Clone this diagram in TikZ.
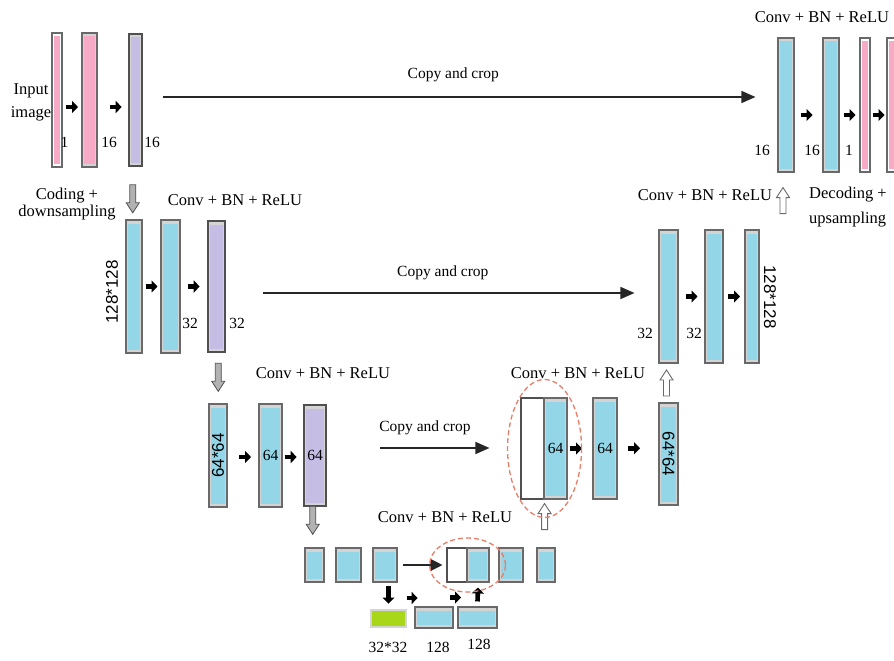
\documentclass[tikz,border=0pt]{standalone}
\usepackage{fontspec}
\setmainfont{Liberation Serif}
\setsansfont{Liberation Sans}
\usetikzlibrary{arrows.meta,calc}

\definecolor{mapblue}{RGB}{146,214,232}
\definecolor{mappink}{RGB}{247,170,197}
\definecolor{maplav}{RGB}{198,189,229}
\definecolor{mappad}{RGB}{212,212,212}
\definecolor{mapedge}{RGB}{105,105,105}
\definecolor{mapdark}{RGB}{80,80,80}
\definecolor{maplime}{RGB}{168,214,24}
\definecolor{cropred}{RGB}{232,125,105}

\begin{document}
\begin{tikzpicture}[
  x=1pt, y=-1pt,
  lbl/.style={inner sep=0pt, font=\fontsize{15.5}{18}\selectfont},
  big/.style={inner sep=0pt, font=\fontsize{16.5}{19}\selectfont},
  dim/.style={inner sep=0pt, font=\sffamily\fontsize{17}{19}\selectfont},
  sz/.style 2 args={minimum width=#1pt, minimum height=#2pt},
  core/.style={path picture={\fill[#1] ([shift={(2.2pt,-3.5pt)}]path picture bounding box.north west) rectangle ([shift={(-2.2pt,3.5pt)}]path picture bounding box.south east);}},
  fmap/.style={draw=mapedge, line width=1.1pt, fill=mappad, inner sep=0pt, lbl},
  bluemap/.style={fmap, core=mapblue},
  pinkmap/.style={fmap, core=mappink},
  thinpink/.style={fmap, fill=white, core=mappink},
  lavmap/.style={fmap, draw=mapdark, line width=2.4pt, core=maplav},
  openmap/.style={draw=mapdark, line width=1.1pt, fill=white, inner sep=0pt},
  limemap/.style={draw=mappad, line width=1.6pt, fill=maplime, inner sep=0pt},
  fwd/.style={line width=4.6pt, -{Triangle[length=6pt, width=12pt]}},
  copyline/.style={draw=gray!30!black, line width=1.4pt, -{Triangle[length=14pt, width=12pt]}},
  cropring/.style={draw=cropred, line width=1.3pt, dash pattern=on 5pt off 3pt},
  pics/dnarrow/.style={code={
    \draw[draw=mapdark, fill=gray!60, line width=0.8pt] (-3,-14) -- (3,-14) -- (3,4) -- (6.5,4) -- (0,14) -- (-6.5,4) -- (-3,4) -- cycle;}},
  pics/uparrow/.style={code={
    \draw[draw=mapedge, fill=white, line width=0.9pt] (-3,13) -- (3,13) -- (3,-3) -- (6.5,-3) -- (0,-13) -- (-6.5,-3) -- (-3,-3) -- cycle;}}
]
\useasboundingbox (0,0) rectangle (894,661);

% level 1, encoder side
\node[thinpink, sz={10}{134}] (t1) at (57,100) {};
\node[pinkmap, sz={15}{134}] (t2) at (89.5,100) {};
\node[lavmap, sz={13}{132}] (t3) at (135.5,100) {};

% level 1, decoder side
\node[bluemap, sz={16}{134}] (r1) at (786,105) {};
\node[bluemap, sz={16}{134}] (r2) at (831,105) {};
\node[thinpink, sz={10}{134}] (r3) at (865,105) {};
\node[thinpink, sz={10}{134}] (r4) at (892,105) {};

% level 2
\node[bluemap, sz={16}{133}] (m1) at (134,286.5) {};
\node[bluemap, sz={19}{133}] (m2) at (170.5,286.5) {};
\node[lavmap, sz={17}{131}] (m3) at (216.5,286.5) {};

\node[bluemap, sz={19}{133}] (n1) at (668.5,296.5) {};
\node[bluemap, sz={18}{133}] (n2) at (714,296.5) {};
\node[bluemap, sz={14}{133}] (n3) at (752,296.5) {};

% level 3
\node[bluemap, sz={18}{103}] (l1) at (218,455.5) {};
\node[bluemap, sz={23}{103}] (l2) at (270.5,455.5) {64};
\node[lavmap, sz={22}{101}] (l3) at (315,455.5) {64};

\node[openmap, sz={23}{101}] (k1) at (532.5,448.5) {};
\node[bluemap, sz={23}{101}] (k2) at (555.5,448.5) {64};
\node[bluemap, sz={24}{101}] (k3) at (605,448.5) {64};
\node[bluemap, sz={19}{102}] (k4) at (668.5,454) {};

% level 4 and bottleneck
\node[bluemap, sz={19}{34}] (b1) at (314.5,565) {};
\node[bluemap, sz={25}{34}] (b2) at (348.5,565) {};
\node[bluemap, sz={24}{34}] (b3) at (385,565) {};
\node[openmap, sz={20}{34}] (b4) at (457,565) {};
\node[bluemap, sz={22}{34}] (b5) at (478,565) {};
\node[bluemap, sz={24}{34}] (b6) at (511,565) {};
\node[bluemap, sz={18}{34}] (b7) at (546,565) {};

\node[limemap, sz={35}{17}] (g1) at (388.5,618.5) {};
\node[bluemap, sz={38}{21}] (c1) at (434,617.5) {};
\node[bluemap, sz={39}{21}] (c2) at (477.5,617.5) {};

% convolution steps
\draw[fwd] ($(t1.east)!.5!(t2.west)+(-6,7)$) -- ++(12,0);
\draw[fwd] ($(t2.east)!.5!(t3.west)+(-3,7)$) -- ++(12,0);
\draw[fwd] ($(r1.east)!.5!(r2.west)+(-8,10)$) -- ++(12,0);
\draw[fwd] ($(r2.east)!.5!(r3.west)+(-6,10)$) -- ++(12,0);
\draw[fwd] ($(r3.east)!.5!(r4.west)+(-6,10)$) -- ++(12,0);
\draw[fwd] ($(m1.east)!.5!(m2.west)+(-6,0)$) -- ++(12,0);
\draw[fwd] ($(m2.east)!.5!(m3.west)+(-6,0)$) -- ++(12,0);
\draw[fwd] ($(n1.east)!.5!(n2.west)+(-6,0)$) -- ++(12,0);
\draw[fwd] ($(n2.east)!.5!(n3.west)+(-6,0)$) -- ++(12,0);
\draw[fwd] ($(l1.east)!.5!(l2.west)+(-4,1.5)$) -- ++(12,0);
\draw[fwd] ($(l2.east)!.5!(l3.west)+(-8,1.5)$) -- ++(12,0);
\draw[fwd] ($(k2.east)!.5!(k3.west)+(-10,0)$) -- ++(12,0);
\draw[fwd] ($(k3.east)!.5!(k4.west)+(-10,-3)$) -- ++(12,0);
\draw[fwd] ($(g1.east)!.5!(c1.west)+(-4,-20)$) -- ++(11,0);
\draw[fwd] ($(c1.east)!.5!(c2.west)+(-5.5,-20)$) -- ++(11,0);
\draw[fwd] ($(b3.south -| g1.north)+(0,3)$) -- ++(0,18);
\draw[fwd] ($(c2.north)+(0,-5)$) -- ($(b5.south)+(0,5)$);

% skip connections
\draw[copyline] ($(t3.east)+(20,-3)$) -- ($(t3.east -| r1.west)+(-22,-3)$)
  node[lbl, midway, xshift=-6pt, yshift=22pt] {Copy and crop};
\draw[copyline] ($(m3.east)+(37,6.5)$) -- ($(m3.east -| n1.west)+(-24,6.5)$)
  node[lbl, midway, xshift=-6pt, yshift=20pt] {Copy and crop};
\draw[copyline] ($(l3.east)+(53,-7.5)$) -- ($(l3.east -| k1.west)+(-31,-7.5)$)
  node[lbl, pos=.41, yshift=20pt] {Copy and crop};
\draw[draw=gray!30!black, line width=1.2pt, -{Triangle[length=12pt, width=12pt]}] ($(b3.east)+(5,0)$) -- ($(b4.west)+(-4,0)$);

% pooling and upsampling
\pic at ($(t3.south)!.5!(m1.north)+(-2,5.5)$) {dnarrow};
\pic at ($(m3.south)!.5!(l1.north)+(1,-1)$) {dnarrow};
\pic at ($(l3.south)!.5!(b1.north)+(-2,-7)$) {dnarrow};
\pic at ($(r1.south)+(-3,28)$) {uparrow};
\pic at ($(k4.north)!.5!(n1.south)+(-2,0)$) {uparrow};
\pic at ($(k1.south east)+(0,17)$) {uparrow};

% concatenated blocks
\draw[cropring] (k1.east) ellipse [x radius=37pt, y radius=69pt];
\draw[cropring] (b4.east) ellipse [x radius=38pt, y radius=27pt];

% labels
\node[big, align=center, font=\fontsize{16.5}{23}\selectfont] (input) at (31,102) {Input\\image};
\node[lbl] (t1n) at (64.5,142) {1};
\node[lbl] (t2n) at (109,142) {16};
\node[lbl] (t3n) at (152,142) {16};
\node[lbl] (r1n) at (762,150) {16};
\node[lbl] (r2n) at (812,150) {16};
\node[lbl] (r3n) at (849,150) {1};
\node[big] (convtop) at (822,17) {Conv + BN + ReLU};
\node[big, align=center, font=\fontsize{16.5}{17.5}\selectfont] (coding) at (67,204) {Coding +\\downsampling};
\node[big, align=left, anchor=west, font=\fontsize{16.5}{25}\selectfont] (decoding) at (809,207) {Decoding +\\upsampling};
\node[big] (convmid) at (235,200) {Conv + BN + ReLU};
\node[big] (convmidr) at (705,195) {Conv + BN + ReLU};
\node[dim, rotate=90] (m1n) at (112,292) {128*128};
\node[lbl] (m2n) at (190,323) {32};
\node[lbl] (m3n) at (237,323) {32};
\node[lbl] (n1n) at (645,333) {32};
\node[lbl] (n2n) at (694,333) {32};
\node[dim, rotate=-90] (n3n) at (770,297) {128*128};
\node[big] (convlow) at (323,373) {Conv + BN + ReLU};
\node[big] (convlowr) at (578,373) {Conv + BN + ReLU};
\node[dim, rotate=90] (l1n) at (l1) {64*64};
\node[dim, rotate=-90] (k4n) at (k4) {64*64};
\node[big] (convbot) at (445,517) {Conv + BN + ReLU};
\node[lbl] (g1n) at (388,647) {32*32};
\node[lbl] (c1n) at (438,647) {128};
\node[lbl] (c2n) at (479,644) {128};
\end{tikzpicture}
\end{document}
